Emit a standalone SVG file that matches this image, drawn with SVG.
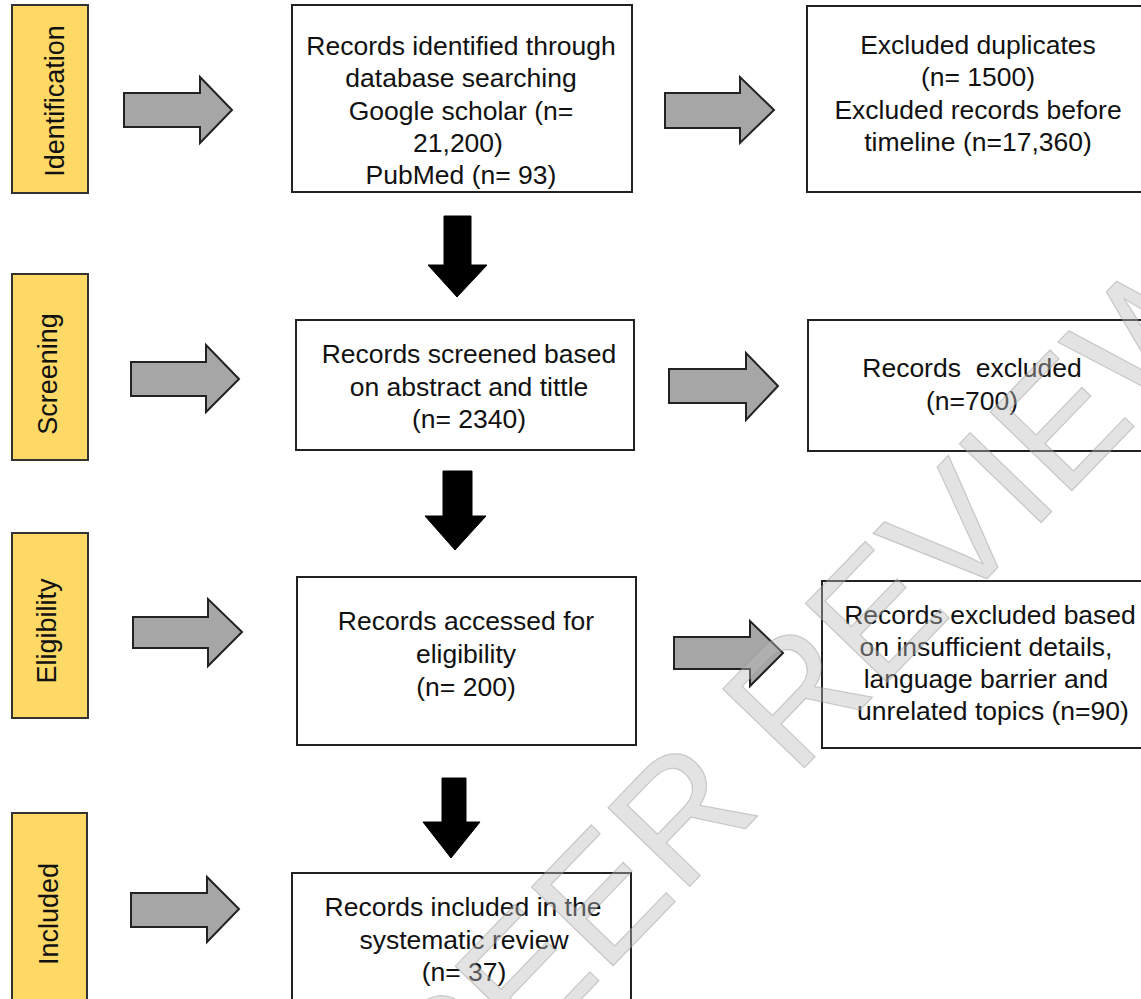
<svg xmlns="http://www.w3.org/2000/svg" width="1141" height="999" viewBox="0 0 1141 999">
<style>
.phase{fill:#FFD966;stroke:#333;stroke-width:2}
.box{fill:#fff;stroke:#222;stroke-width:2}
.t{font-family:"Liberation Sans",Arial,sans-serif;font-size:26.5px;fill:#111;text-anchor:middle}
.pt{font-family:"Liberation Sans",Arial,sans-serif;font-size:27px;fill:#111;text-anchor:middle}
.garrow{fill:#A6A6A6;stroke:#222;stroke-width:2;stroke-linejoin:miter}
.barrow{fill:#000;stroke:#000;stroke-width:1}
.wm{font-family:"Liberation Sans",Arial,sans-serif;font-size:165px;fill:#bdbdbd;fill-opacity:0.42;stroke:#9a9a9a;stroke-opacity:0.45;stroke-width:1.2;text-anchor:middle}
</style>
<rect width="1141" height="999" fill="#fff"/>

<g id="phases">
<g id="phase-identification">
<rect class="phase" x="12" y="5" width="76" height="188"/>
<text class="pt" transform="translate(64,101) rotate(-90)">Identification</text>
</g>
<g id="phase-screening">
<rect class="phase" x="12" y="274" width="76" height="186"/>
<text class="pt" transform="translate(57,374) rotate(-90)">Screening</text>
</g>
<g id="phase-eligibility">
<rect class="phase" x="12" y="533" width="76" height="185"/>
<text class="pt" transform="translate(56,631) rotate(-90)">Eligibility</text>
</g>
<g id="phase-included">
<rect class="phase" x="12" y="813" width="75" height="192"/>
<text class="pt" transform="translate(58,914) rotate(-90)">Included</text>
</g>
</g>

<g id="node-identified">
<rect class="box" x="292" y="5" width="340" height="187"/>
<text class="t" x="461" y="55">Records identified through</text>
<text class="t" x="461" y="87">database searching</text>
<text class="t" x="461" y="120">Google scholar (n=</text>
<text class="t" x="458" y="152">21,200)</text>
<text class="t" x="461" y="184">PubMed (n= 93)</text>
</g>

<g id="node-duplicates">
<rect class="box" x="807" y="6" width="345" height="186"/>
<text class="t" x="978" y="54">Excluded duplicates</text>
<text class="t" x="978" y="86">(n= 1500)</text>
<text class="t" x="978" y="119">Excluded records before</text>
<text class="t" x="978" y="151">timeline (n=17,360)</text>
</g>

<g id="node-screened">
<rect class="box" x="296" y="320" width="338" height="130"/>
<text class="t" x="469" y="363">Records screened based</text>
<text class="t" x="469" y="396">on abstract and tittle</text>
<text class="t" x="469" y="428">(n= 2340)</text>
</g>

<g id="node-excluded700">
<rect class="box" x="808" y="320" width="345" height="131"/>
<text class="t" x="972" y="377" xml:space="preserve">Records  excluded</text>
<text class="t" x="972" y="410">(n=700)</text>
</g>

<g id="node-eligibility">
<rect class="box" x="297" y="577" width="339" height="168"/>
<text class="t" x="466" y="630">Records accessed for</text>
<text class="t" x="466" y="663">eligibility</text>
<text class="t" x="466" y="696">(n= 200)</text>
</g>

<g id="node-excluded90">
<rect class="box" x="822" y="581" width="330" height="167"/>
<text class="t" x="990" y="624">Records excluded based</text>
<text class="t" x="986" y="656">on insufficient details,</text>
<text class="t" x="986" y="688">language barrier and</text>
<text class="t" x="993" y="720">unrelated topics (n=90)</text>
</g>

<g id="node-included">
<rect class="box" x="292" y="873" width="339" height="135"/>
<text class="t" x="463" y="916">Records included in the</text>
<text class="t" x="464" y="949">systematic review</text>
<text class="t" x="464" y="981">(n= 37)</text>
</g>

<g id="connectors">
<path class="garrow" d="M124,93 H200 V77 L232,110 L200,143 V127 H124 Z"/>
<path class="garrow" d="M131,362 H206 V345 L239,379 L206,412 V396 H131 Z"/>
<path class="garrow" d="M133,617 H208 V599 L242,632 L208,666 V648 H133 Z"/>
<path class="garrow" d="M131,893 H207 V877 L239,909 L207,942 V927 H131 Z"/>
<path class="garrow" d="M665,93 H740 V77 L774,110 L740,143 V128 H665 Z"/>
<path class="garrow" d="M669,369 H746 V353 L778,386 L746,420 V403 H669 Z"/>
<path class="garrow" d="M674,637 H750 V621 L783,653 L750,686 V669 H674 Z"/>
<path class="barrow" d="M444,216 H471 V265 H487 L457,297 L428,265 H444 Z"/>
<path class="barrow" d="M443,471 H472 V516 H486 L455,550 L425,516 H443 Z"/>
<path class="barrow" d="M442,778 H466 V822 H480 L451,858 L423,822 H442 Z"/>
</g>

<g id="watermark">
<text class="wm" transform="translate(808,682) rotate(-46)" dominant-baseline="central">PEER REVIEW</text>
</g>
</svg>
